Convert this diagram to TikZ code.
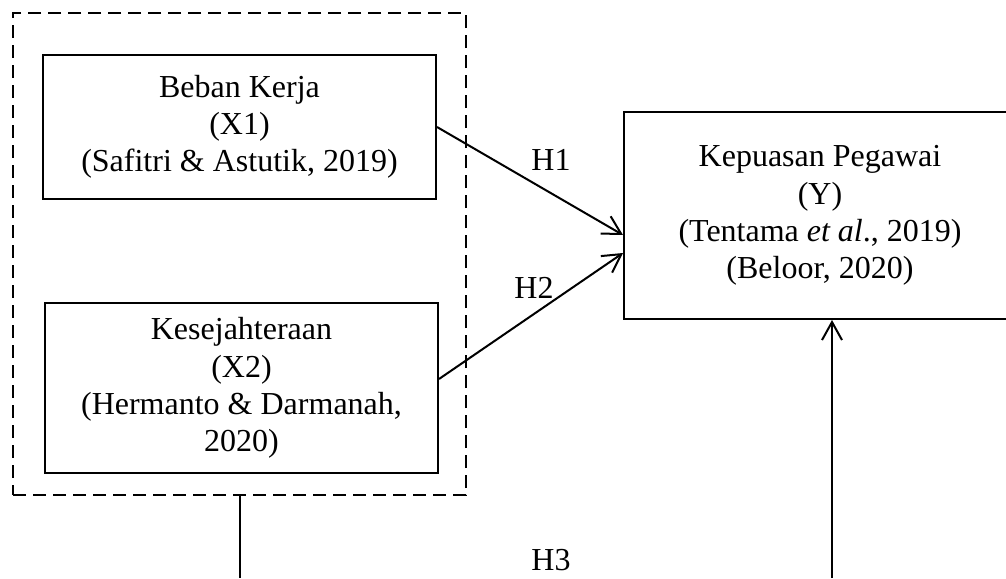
\documentclass[tikz,border=0pt]{standalone}
\usepackage{fontspec}
\setmainfont{Liberation Serif}
\usepackage{tikz}
\usetikzlibrary{arrows.meta}

\tikzset{
    varbox/.style={draw, line width=1pt, align=center, inner sep=0pt,
        font=\fontsize{16}{18.6}\selectfont},
    hyp/.style={font=\fontsize{16}{18.6}\selectfont},
    link/.style={line width=1pt, -{Straight Barb[length=9pt, width=10pt, line width=1pt]}}
}

\begin{document}
\begin{tikzpicture}[x=0.5pt, y=-0.5pt]
        \useasboundingbox (0, 0) rectangle (1006, 578);
        \node [draw, line width=1pt, dash pattern=on 6.5pt off 3.5pt, minimum width=226.5pt, minimum height=241pt] (group) at (239.5, 254) {};
        \node [varbox, minimum width=196.5pt, minimum height=72pt] (beban) at (239.5, 127) {Beban Kerja\\(X1)\\(Safitri \& Astutik, 2019)};
        \node [varbox, minimum width=196.5pt, minimum height=85pt] (sejahtera) at (241.5, 388) {Kesejahteraan\\(X2)\\(Hermanto \& Darmanah,\\2020)};
        \node [varbox, minimum width=196pt, minimum height=103.5pt] (puas) at (820, 215.5) {Kepuasan Pegawai\\(Y)\\(Tentama \textit{et al}., 2019)\\(Beloor, 2020)};
        \draw [link] (beban.east) -- ([yshift=-9.75pt]puas.west);
        \draw [link] ([yshift=4.5pt]sejahtera.east) -- ([yshift=-18.75pt]puas.west);
        \coordinate (down) at (group.south |- 0, 578);
        \coordinate (up) at (832, 578);
        \draw [line width=1pt] (group.south) -- (down);
        \draw [link] (up) -- (up |- puas.south);
        \node [hyp] (h1) at (551, 160) {H1};
        \node [hyp] (h2) at (534, 288) {H2};
        \node [hyp] (h3) at (551, 560) {H3};
    \end{tikzpicture}
\end{document}
